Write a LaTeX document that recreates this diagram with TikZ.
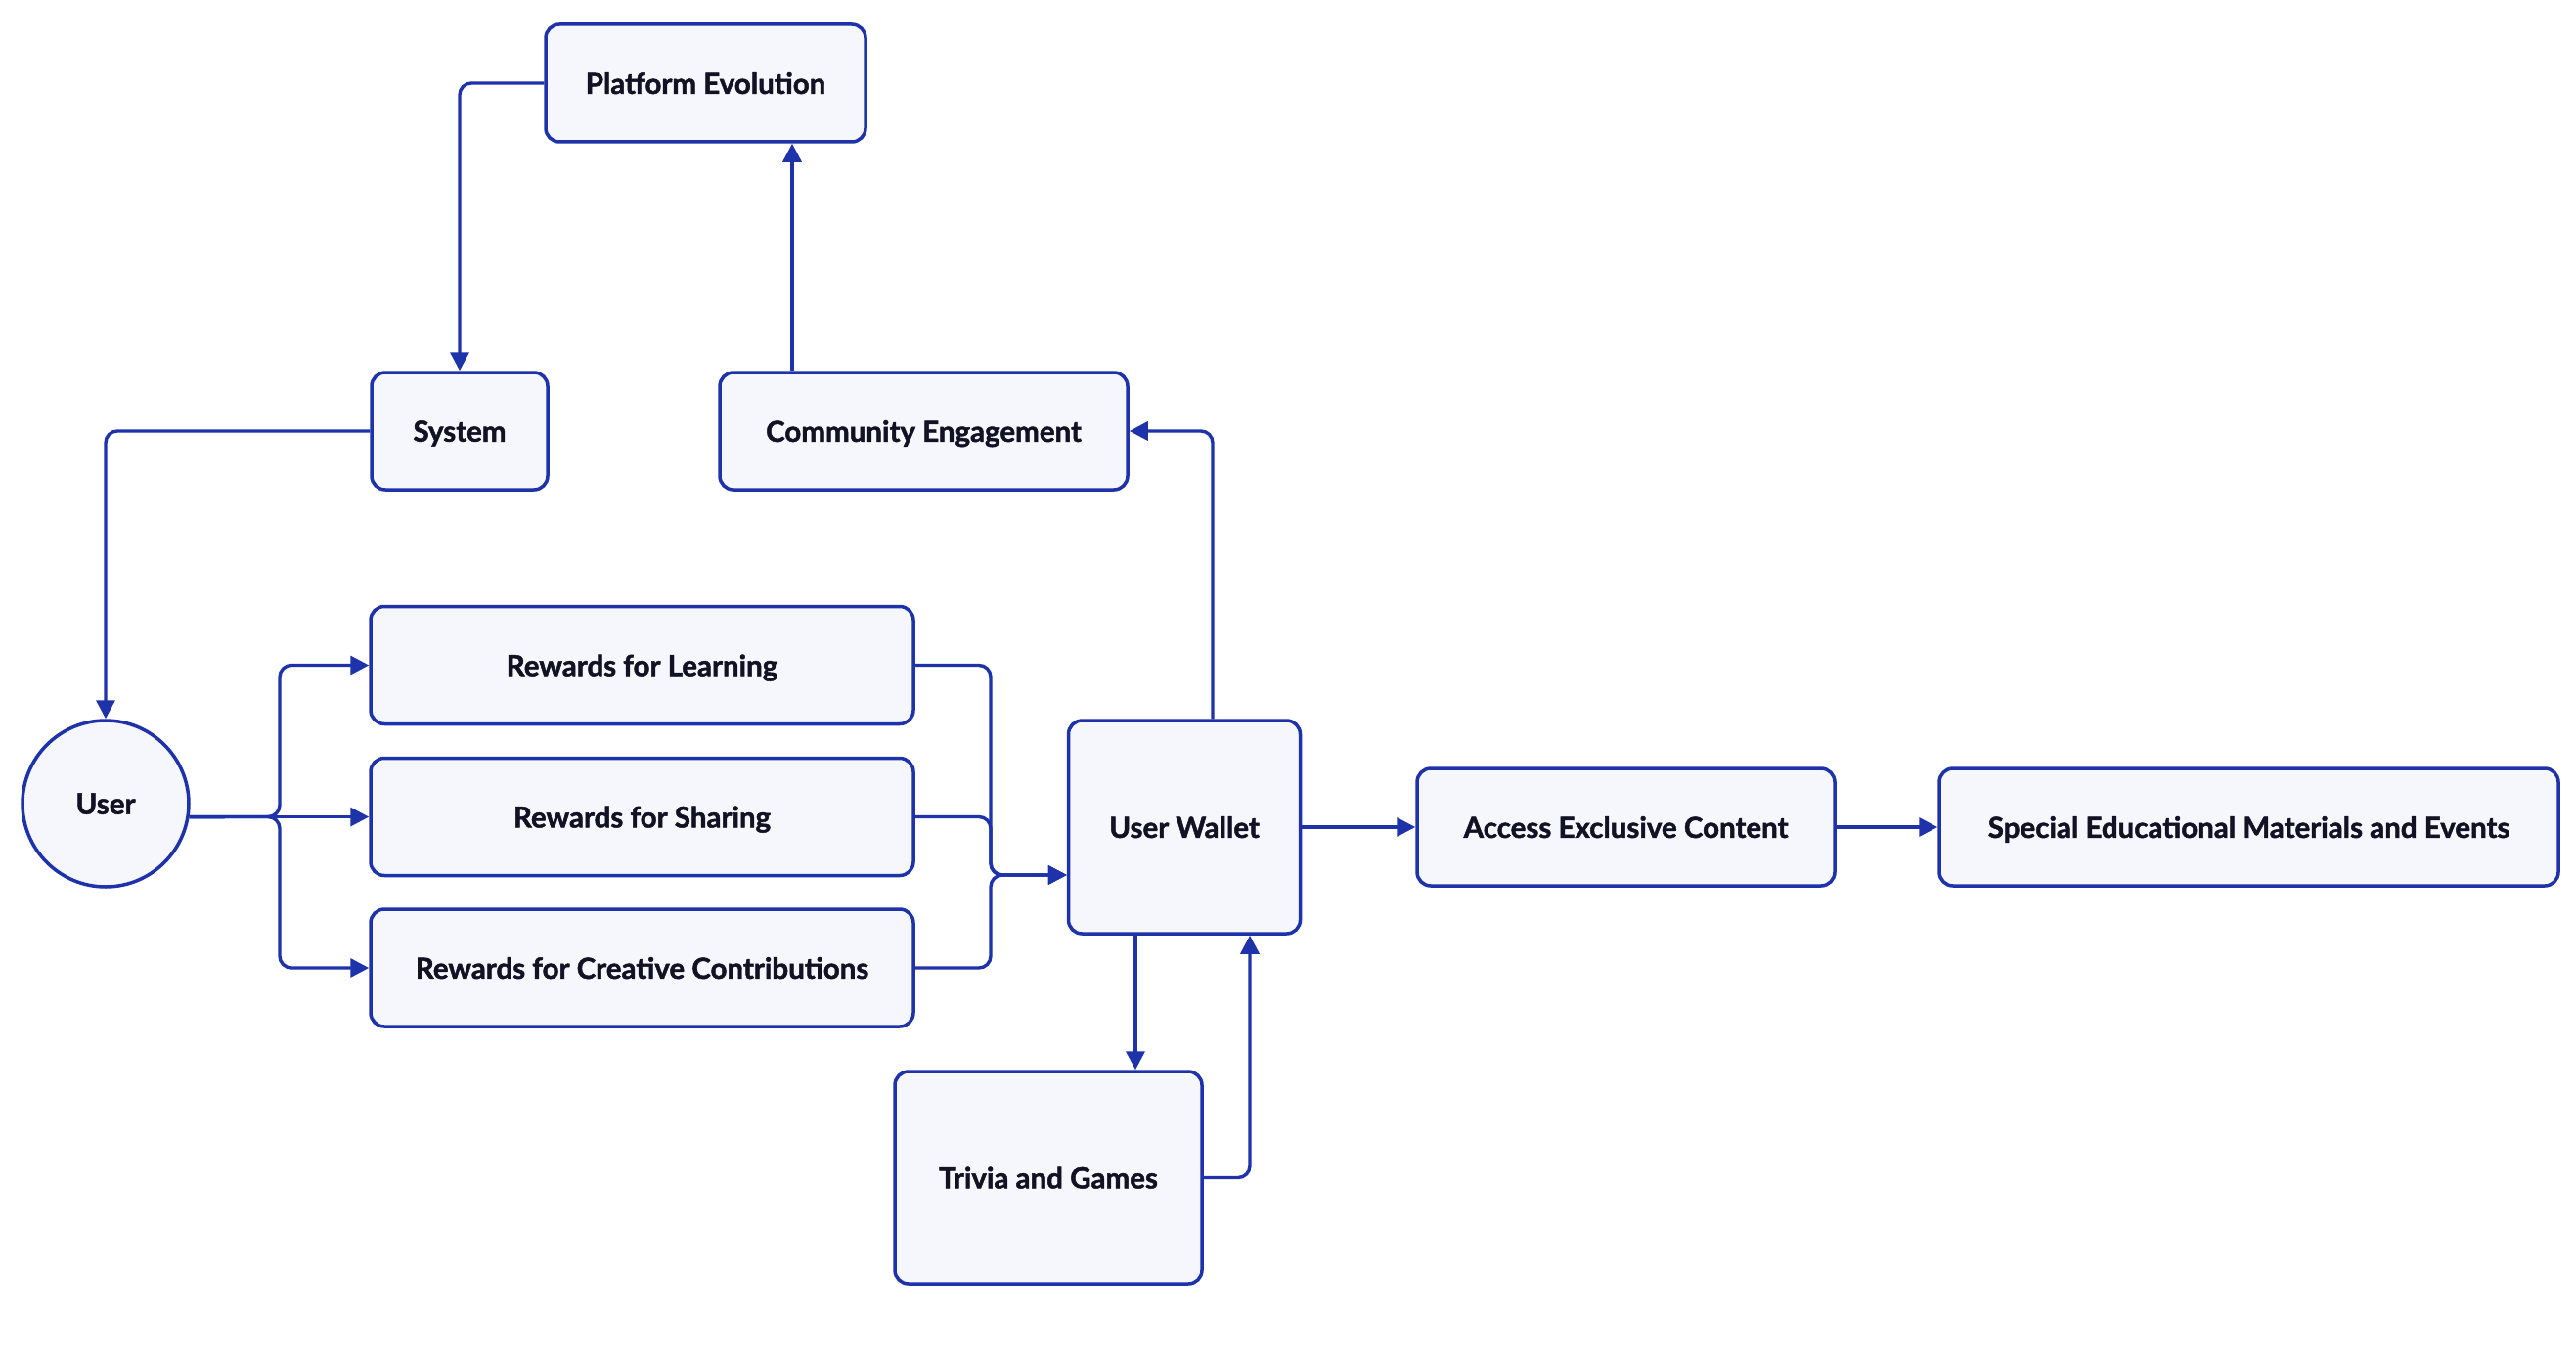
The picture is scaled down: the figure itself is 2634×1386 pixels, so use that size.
\documentclass[tikz,border=0pt]{standalone}
\usepackage{fontspec}
\setmainfont{Lato}[BoldFeatures={FakeBold=1.6}]
\usetikzlibrary{arrows.meta}
\definecolor{bblue}{RGB}{30,50,170}
\definecolor{bfill}{RGB}{245,247,252}
\definecolor{tdark}{RGB}{17,19,37}
\begin{document}
\begin{tikzpicture}[x=1pt,y=-1pt,
  box/.style={draw=bblue, fill=bfill, line width=3.5pt, rounded corners=14pt, inner sep=0pt,
    text depth=0pt, font=\fontsize{29.5}{34}\selectfont\bfseries, text=tdark},
  conn/.style={draw=bblue, line width=3.4pt, rounded corners=12pt, -{Triangle[length=19pt,width=19pt]}}]
\useasboundingbox[fill=white] (0,0) rectangle (2634,1386);
\node[box, minimum width=327pt, minimum height=120pt] (pe) at (721.5,85) {Platform Evolution};
\node[box, minimum width=180pt, minimum height=120pt] (sys) at (470,441) {System};
\node[box, minimum width=417pt, minimum height=120pt] (ce) at (944.5,441) {Community Engagement};
\node[box, circle, minimum size=170pt] (user) at (108,822) {User};
\node[box, minimum width=555pt, minimum height=120pt] (rl) at (656.5,680.5) {Rewards for Learning};
\node[box, minimum width=555pt, minimum height=120pt] (rs) at (656.5,835.5) {Rewards for Sharing};
\node[box, minimum width=555pt, minimum height=120pt] (rc) at (656.5,990) {Rewards for Creative Contributions};
\node[box, minimum width=237pt, minimum height=218pt] (uw) at (1211,846) {User Wallet};
\node[box, minimum width=427pt, minimum height=120pt] (ae) at (1662.5,846) {Access Exclusive Content};
\node[box, minimum width=633pt, minimum height=120pt] (se) at (2299.5,846) {Special Educational Materials and Events};
\node[box, minimum width=314pt, minimum height=217pt] (tg) at (1072,1204.5) {Trivia and Games};
\coordinate (p1) at (810,0);
\coordinate (br) at (286,835.5);
\coordinate (mg) at (1013,895);
\coordinate (w1) at (1240,0);
\coordinate (t1) at (1161,0);
\coordinate (t2) at (1278,0);
\draw[conn] (pe.west) -| (sys.north);
\draw[conn] (p1 |- ce.north) -- (p1 |- pe.south);
\draw[conn] (sys.west) -| (user.north);
\draw[conn] (user.-9.5) -- (user.-9.5 -| rs.west);
\draw[conn] (user.-9.5) -- (br) |- (rl.west);
\draw[conn] (user.-9.5) -- (br) |- (rc.west);
\draw[conn] (rl.east) -| (mg) -- (uw.west |- mg);
\draw[conn] (rs.east) -| (mg) -- (uw.west |- mg);
\draw[conn] (rc.east) -| (mg) -- (uw.west |- mg);
\draw[conn] (w1 |- uw.north) |- (ce.east);
\draw[conn] (uw.east) -- (ae.west);
\draw[conn] (ae.east) -- (se.west);
\draw[conn] (t1 |- uw.south) -- (t1 |- tg.north);
\draw[conn] (tg.east) -| (t2 |- uw.south);
\end{tikzpicture}
\end{document}
